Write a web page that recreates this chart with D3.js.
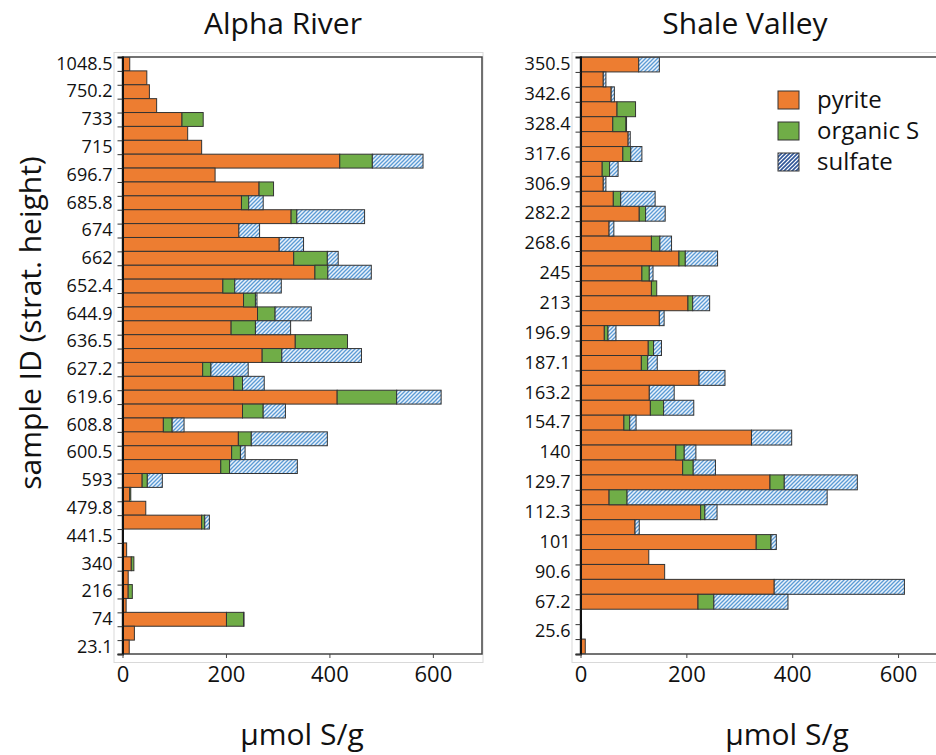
<html>

<head>
    <style>
        body { margin: 0; background: #fff; }
        text { font-family: "Open Sans", Lato, sans-serif; fill: #111; }
        .frame { fill: none; stroke: #d9d9d9; stroke-width: 1 }
        .box { fill: none; stroke: #444; stroke-width: 1.5 }
        .bar { stroke: #333; stroke-width: 1 }
    </style>
</head>

<body>
    <svg id="container" height="755" width="936"></svg>
</body>
<script src="https://cdn.jsdelivr.net/npm/d3@7"></script>
<script>
    // Alpha River, top to bottom ("" = unlabeled bar)
    let alphaIds = ["1048.5", "", "750.2", "", "733", "", "715", "", "696.7", "", "685.8", "", "674", "",
        "662", "", "652.4", "", "644.9", "", "636.5", "", "627.2", "", "619.6", "", "608.8", "", "600.5", "",
        "593", "", "479.8", "", "441.5", "", "340", "", "216", "", "74", "", "23.1"]
    let alphaPyrite = [14, 47, 52, 66, 115, 126, 153, 420, 179, 264, 230, 326, 225, 303,
        331, 372, 194, 234, 261, 210, 334, 270, 155, 215, 415, 232, 79, 224, 211, 190,
        38, 14, 45, 153, 0, 8, 17, 11, 11, 7, 201, 23, 13]
    let alphaOrganic = [0, 0, 0, 0, 41, 0, 0, 63, 0, 28, 14, 11, 0, 0,
        65, 25, 23, 23, 34, 47, 101, 38, 16, 17, 115, 40, 17, 25, 17, 17,
        10, 2, 0, 6, 0, 0, 5, 0, 8, 0, 33, 0, 0]
    let alphaSulfate = [0, 0, 0, 0, 0, 0, 0, 98, 0, 0, 28, 131, 40, 47,
        21, 84, 90, 3, 70, 68, 0, 154, 72, 42, 86, 43, 23, 147, 9, 131,
        29, 0, 0, 9, 0, 0, 0, 0, 0, 0, 1, 0, 0]

    // Shale Valley, top to bottom
    let shaleIds = ["350.5", "", "342.6", "", "328.4", "", "317.6", "", "306.9", "", "282.2", "", "268.6", "",
        "245", "", "213", "", "196.9", "", "187.1", "", "163.2", "", "154.7", "", "140", "", "129.7", "",
        "112.3", "", "101", "", "90.6", "", "67.2", "", "25.6", ""]
    let shalePyrite = [110, 43, 58, 69, 61, 90, 80, 41, 43, 62, 111, 54, 134, 186,
        116, 134, 203, 149, 45, 128, 115, 224, 130, 132, 82, 323, 180, 193, 358, 54,
        227, 103, 332, 129, 159, 366, 222, 0, 2, 9]
    let shaleOrganic = [0, 0, 0, 35, 25, 0, 15, 14, 0, 14, 12, 0, 16, 12,
        14, 10, 9, 0, 7, 10, 12, 0, 0, 25, 11, 0, 16, 20, 27, 34,
        8, 0, 28, 0, 0, 0, 30, 0, 0, 0]
    let shaleSulfate = [39, 5, 6, 0, 1, 4, 21, 16, 5, 65, 37, 9, 22, 61,
        7, 0, 32, 9, 15, 15, 18, 49, 47, 57, 12, 76, 22, 42, 138, 378,
        23, 8, 10, 0, 0, 246, 140, 0, 0, 0]

    let xTicks = [0, 200, 400, 600]
    let keys = ["pyrite", "organic", "sulfate"]
    let keyLabels = ["pyrite", "organic S", "sulfate"]

    let svg = d3.select("#container")
    let defs = svg.append("defs")

    function hatch(id, bg, line, width) {
        let p = defs.append("pattern")
            .attr("id", id)
            .attr("patternUnits", "userSpaceOnUse")
            .attr("width", 4).attr("height", 4)
        p.append("rect").attr("width", 4).attr("height", 4).attr("fill", bg)
        p.append("path")
            .attr("d", "M-1,1 l2,-2 M0,4 l4,-4 M3,5 l2,-2")
            .attr("stroke", line).attr("stroke-width", width)
    }
    hatch("hatchBar", "#eaf2fb", "#5b9bd5", 1.3)
    hatch("hatchLegend", "#ffffff", "#2f5597", 1.6)

    let colors = { pyrite: "#ed7d31", organic: "#70ad47", sulfate: "url(#hatchBar)" }

    function drawPanel(opt) {
        let data = opt.ids.map((id, i) => ({
            i: i,
            pyrite: opt.pyrite[i],
            organic: opt.organic[i],
            sulfate: opt.sulfate[i]
        }))
        let n = data.length
        let top = 57, bottom = 654

        let x = d3.scaleLinear().domain([0, opt.max]).range([opt.left, opt.right])
        let y = d3.scaleBand().domain(d3.range(n)).range([top, bottom]).padding(0)
        let yEdge = d3.scaleLinear().domain([0, n]).range([top, bottom])

        let g = svg.append("g")

        // outer light frame
        g.append("rect").attr("class", "frame")
            .attr("x", opt.left - 8.5).attr("y", top - 4.5)
            .attr("width", opt.right - opt.left + 9.5).attr("height", bottom - top + 13)

        let clip = "clip" + opt.name
        defs.append("clipPath").attr("id", clip)
            .append("rect").attr("x", opt.left).attr("y", top)
            .attr("width", opt.right - opt.left).attr("height", bottom - top)

        let stack = d3.stack().keys(keys)(data)
        g.append("g").attr("clip-path", "url(#" + clip + ")")
            .selectAll("g")
            .data(stack)
            .enter().append("g")
            .attr("fill", d => colors[d.key])
            .selectAll("rect")
            .data(d => d.filter(s => s[1] > s[0]))
            .enter().append("rect")
            .attr("class", "bar")
            .attr("x", d => x(d[0]))
            .attr("y", d => y(d.data.i))
            .attr("width", d => x(d[1]) - x(d[0]))
            .attr("height", y.bandwidth())

        g.append("rect").attr("class", "box")
            .attr("x", opt.left).attr("y", top)
            .attr("width", opt.right - opt.left).attr("height", bottom - top)

        // category ticks at bar boundaries
        g.append("g")
            .attr("transform", "translate(" + opt.left + ",0)")
            .call(d3.axisLeft(yEdge).tickValues(d3.range(1, n + 1)).tickSize(5).tickFormat(""))
            .call(a => a.select(".domain").attr("stroke", "#111").attr("stroke-width", 2))
            .call(a => a.selectAll("line").attr("stroke", "#333"))

        // labels on every other bar
        g.append("g")
            .attr("transform", "translate(" + opt.left + ",0)")
            .call(d3.axisLeft(y).tickSize(0).tickPadding(10).tickFormat(i => opt.ids[i]))
            .call(a => a.select(".domain").remove())
            .call(a => a.selectAll("text").style("font-size", "18px").attr("fill", "#111"))

        g.append("g")
            .attr("transform", "translate(0," + bottom + ")")
            .call(d3.axisBottom(x).tickValues(xTicks).tickSize(4).tickPadding(8))
            .call(a => a.select(".domain").remove())
            .call(a => a.selectAll("line").attr("stroke", "#444"))
            .call(a => a.selectAll("text").style("font-size", "22px").attr("fill", "#111"))

        svg.append("text")
            .attr("x", opt.titleX).attr("y", 34)
            .attr("text-anchor", "middle")
            .style("font-size", "30px")
            .text(opt.title)

        svg.append("text")
            .attr("x", opt.unitX).attr("y", 745)
            .attr("text-anchor", "middle")
            .style("font-size", "30px")
            .text("µmol S/g")
    }

    drawPanel({
        name: "alpha", title: "Alpha River", ids: alphaIds,
        pyrite: alphaPyrite, organic: alphaOrganic, sulfate: alphaSulfate,
        left: 122.5, right: 482, max: 695, titleX: 283, unitX: 302
    })
    drawPanel({
        name: "shale", title: "Shale Valley", ids: shaleIds,
        pyrite: shalePyrite, organic: shaleOrganic, sulfate: shaleSulfate,
        left: 580.5, right: 951, max: 700, titleX: 745, unitX: 787
    })

    svg.append("text")
        .attr("transform", "translate(41,323) rotate(-90)")
        .attr("text-anchor", "middle")
        .style("font-size", "30px")
        .text("sample ID (strat. height)")

    // legend
    let legendFill = { pyrite: "#ed7d31", organic: "#70ad47", sulfate: "url(#hatchLegend)" }
    let legend = svg.append("g")
        .selectAll("g")
        .data(keys)
        .enter().append("g")
        .attr("transform", (d, i) => "translate(778," + (91 + i * 31) + ")")
    legend.append("rect")
        .attr("width", 21).attr("height", 18)
        .attr("fill", d => legendFill[d])
        .attr("stroke", "#333")
    legend.append("text")
        .attr("x", 39).attr("y", 9)
        .attr("dy", "0.35em")
        .style("font-size", "24px")
        .text((d, i) => keyLabels[i])
</script>

</html>
